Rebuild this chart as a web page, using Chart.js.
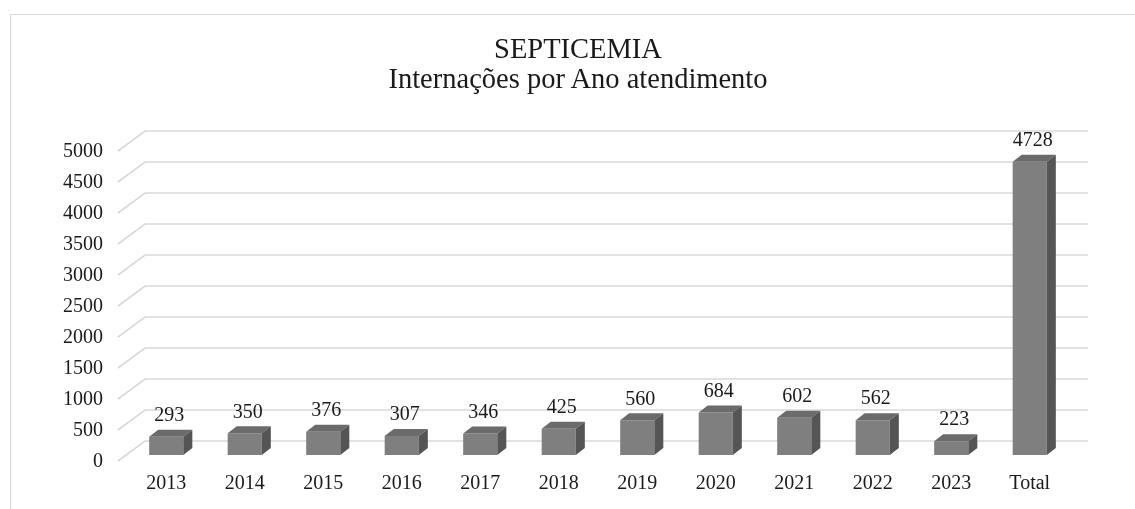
<!DOCTYPE html>
<html>
<head>
<meta charset="utf-8">
<script src="https://cdn.jsdelivr.net/npm/chart.js@4/dist/chart.umd.min.js"></script>
<style>
    html, body { margin: 0; padding: 0; background: #fff; }
    #wrap { position: relative; width: 1135px; height: 509px; overflow: hidden; }
    #frame { position: absolute; left: 10px; top: 14px; width: 1200px; height: 600px; border: 1px solid #d9d9d9; }
    #chart { position: absolute; left: 0; top: 0; }
    #title {
        position: absolute; left: 378px; top: 34px; width: 400px;
        text-align: center; color: #1a1a1a;
        font-family: 'Liberation Serif', 'Times New Roman', serif;
        font-size: 28.5px; line-height: 30px; white-space: nowrap;
    }
</style>
</head>
<body>
<div id="wrap">
    <div id="frame"></div>
    <canvas id="chart" width="1135" height="509"></canvas>
    <div id="title"></div>
</div>
<script>
const categories = ['2013', '2014', '2015', '2016', '2017', '2018', '2019', '2020', '2021', '2022', '2023', 'Total'];
const internacoes = [293, 350, 376, 307, 346, 425, 560, 684, 602, 562, 223, 4728];
const yTicks = [0, 500, 1000, 1500, 2000, 2500, 3000, 3500, 4000, 4500, 5000];
const titleLines = ['SEPTICEMIA', 'Internações por Ano atendimento'];

const fontFamily = "'Liberation Serif', 'Times New Roman', serif";
const depthX = 9;
const depthY = 7;

document.getElementById('title').innerHTML = titleLines.map(t => `<div>${t}</div>`).join('');

// floor / back-wall gridlines drawn in perspective
const gridPlugin = {
    id: 'grid3d',
    beforeDatasetsDraw(chart) {
        const { ctx, chartArea, scales } = chart;
        ctx.save();
        ctx.strokeStyle = '#d9d9d9';
        ctx.lineWidth = 1.6;
        scales.y.ticks.forEach(t => {
            const y = scales.y.getPixelForValue(t.value);
            ctx.beginPath();
            ctx.moveTo(chartArea.left - 9, y + 6);
            ctx.lineTo(chartArea.left + 18, y - 14);
            ctx.lineTo(chartArea.right + 19, y - 14);
            ctx.stroke();
        });
        ctx.restore();
    }
};

// top and side faces of each bar plus value labels
const boxPlugin = {
    id: 'box3d',
    afterDatasetsDraw(chart) {
        const { ctx } = chart;
        const meta = chart.getDatasetMeta(0);
        ctx.save();
        meta.data.forEach((bar, i) => {
            const x0 = bar.x - bar.width / 2;
            const x1 = bar.x + bar.width / 2;
            const top = bar.y;
            const base = bar.base;

            ctx.fillStyle = '#6b6b6b';
            ctx.beginPath();
            ctx.moveTo(x0, top);
            ctx.lineTo(x0 + depthX, top - depthY);
            ctx.lineTo(x1 + depthX, top - depthY);
            ctx.lineTo(x1, top);
            ctx.closePath();
            ctx.fill();

            ctx.fillStyle = '#555555';
            ctx.beginPath();
            ctx.moveTo(x1, top);
            ctx.lineTo(x1 + depthX, top - depthY);
            ctx.lineTo(x1 + depthX, base - depthY);
            ctx.lineTo(x1, base);
            ctx.closePath();
            ctx.fill();

            ctx.fillStyle = '#1a1a1a';
            ctx.font = '20px ' + fontFamily;
            ctx.textAlign = 'center';
            ctx.textBaseline = 'middle';
            ctx.fillText(String(internacoes[i]), bar.x + 3, top - 21);
        });
        ctx.restore();
    }
};

new Chart(document.getElementById('chart'), {
    type: 'bar',
    data: {
        labels: categories,
        datasets: [{
            data: internacoes,
            backgroundColor: '#7f7f7f',
            borderWidth: 0,
            categoryPercentage: 1,
            barPercentage: 0.435
        }]
    },
    options: {
        responsive: false,
        animation: false,
        layout: { padding: { left: 20, right: 66, top: 145, bottom: 0 } },
        plugins: {
            legend: { display: false },
            tooltip: { enabled: false },
            title: { display: false }
        },
        scales: {
            x: {
                grid: { display: false, drawTicks: false },
                border: { display: false },
                ticks: { color: '#1a1a1a', font: { family: fontFamily, size: 20 }, padding: 17, maxRotation: 0, autoSkip: false },
                afterFit: s => { s.height = 54; }
            },
            y: {
                min: 0,
                max: 5000,
                afterBuildTicks: s => { s.ticks = yTicks.map(v => ({ value: v })); },
                grid: { display: false, drawTicks: false },
                border: { display: false },
                ticks: {
                    color: '#1a1a1a', font: { family: fontFamily, size: 20 }, padding: 24, labelOffset: 7,
                    callback: v => String(v)
                },
                afterFit: s => { s.width = 107; }
            }
        }
    },
    plugins: [gridPlugin, boxPlugin]
});
</script>
</body>
</html>
